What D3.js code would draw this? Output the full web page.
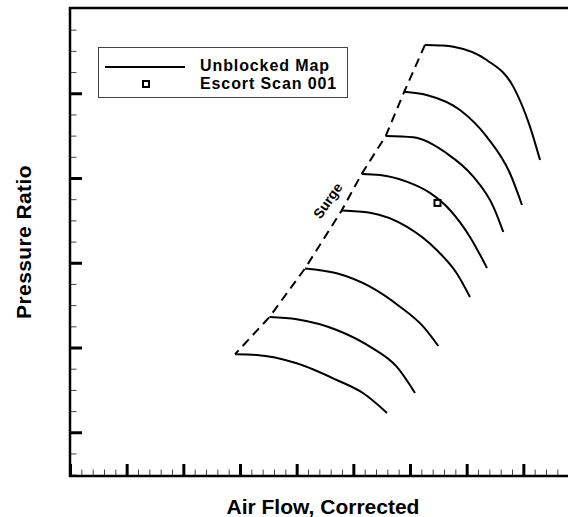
<!DOCTYPE html>
<html>
<head>
<meta charset="utf-8">
<script src="https://cdn.jsdelivr.net/npm/d3@7"></script>
<style>
  html, body { margin: 0; padding: 0; background: #fff; }
  svg { display: block; font-family: "Liberation Sans", Arial, sans-serif; }
</style>
</head>
<body>
<svg id="chart" width="568" height="517"></svg>
<script>
// ---- Data (arbitrary units: 1 unit = 1 major tick) ----
const speedLines = [
  { u: [6.264, 6.529, 6.764, 7.353, 7.822, 8.117, 8.294], v: [5.570, 5.564, 5.550, 5.393, 5.078, 4.606, 4.213] },
  { u: [5.899, 6.294, 6.882, 7.353, 7.764, 7.976],        v: [5.019, 4.980, 4.803, 4.488, 4.056, 3.682] },
  { u: [5.571, 6.058, 6.647, 7.117, 7.470, 7.646],        v: [4.496, 4.481, 4.292, 4.016, 3.662, 3.363] },
  { u: [5.147, 5.470, 5.941, 6.352, 6.705, 7.058, 7.358], v: [4.048, 4.036, 3.957, 3.824, 3.623, 3.305, 2.939] },
  { u: [4.794, 5.294, 5.941, 6.471, 6.824, 7.058],        v: [3.617, 3.591, 3.426, 3.151, 2.876, 2.596] },
  { u: [4.147, 4.706, 5.294, 5.823, 6.234, 6.499],        v: [2.933, 2.876, 2.718, 2.482, 2.246, 2.018] },
  { u: [3.520, 4.000, 4.706, 5.294, 5.765, 6.088],        v: [2.360, 2.333, 2.207, 2.010, 1.774, 1.464] },
  { u: [2.912, 3.294, 4.000, 4.706, 5.176, 5.594],        v: [1.920, 1.912, 1.814, 1.617, 1.460, 1.228] }
];
const scanU = [6.485];
const scanV = [3.706];
const surgeLabel = { text: "Surge", u: 4.62, v: 3.70, angle: -55 };
const legendLabels = ["Unblocked Map", "Escort Scan 001"];
const xTitle = "Air Flow, Corrected";
const yTitle = "Pressure Ratio";
const xMajorTicks = [0, 1, 2, 3, 4, 5, 6, 7, 8];
const yMajorTicks = [1, 2, 3, 4, 5];
const xDomain = [0, 8.788];
const yDomain = [0.484, 6.006];

(function () {
// ---- Layout ----
const svg = d3.select("#chart");
const mLeft = 70, mRight = 568, mTop = 8, mBottom = 476;
const x = d3.scaleLinear().domain(xDomain).range([mLeft, mRight]);
const y = d3.scaleLinear().domain(yDomain).range([mBottom, mTop]);

const xMinorTicks = d3.range(0, xDomain[1], 0.2).filter(t => Math.abs(t - Math.round(t)) > 1e-6);
const yMinorTicks = d3.range(0.5, yDomain[1], 0.25).filter(t => Math.abs(t - Math.round(t)) > 1e-6);

// minor ticks
const gxMinor = svg.append("g").attr("transform", `translate(0,${mBottom})`)
  .call(d3.axisBottom(x).tickValues(xMinorTicks).tickSize(-6.5).tickFormat(""));
const gyMinor = svg.append("g").attr("transform", `translate(${mLeft},0)`)
  .call(d3.axisLeft(y).tickValues(yMinorTicks).tickSize(-6.5).tickFormat(""));
[gxMinor, gyMinor].forEach(g => {
  g.select(".domain").remove();
  g.selectAll("line").attr("stroke", "#444").attr("stroke-width", 1);
});
// major ticks
const gxMajor = svg.append("g").attr("transform", `translate(0,${mBottom})`)
  .call(d3.axisBottom(x).tickValues(xMajorTicks).tickSize(-12).tickFormat(""));
const gyMajor = svg.append("g").attr("transform", `translate(${mLeft},0)`)
  .call(d3.axisLeft(y).tickValues(yMajorTicks).tickSize(-12).tickFormat(""));
[gxMajor, gyMajor].forEach(g => {
  g.select(".domain").remove();
  g.selectAll("line").attr("stroke", "#000").attr("stroke-width", 3);
});

// frame
svg.append("path")
  .attr("d", `M${mRight},${mTop}H${mLeft}V${mBottom}H${mRight}`)
  .attr("fill", "none").attr("stroke", "#000").attr("stroke-width", 2.5);

// speed lines
const line = d3.line().x(d => x(d[0])).y(d => y(d[1])).curve(d3.curveMonotoneX);
svg.append("g").selectAll("path").data(speedLines).join("path")
  .attr("d", s => line(s.u.map((u, i) => [u, s.v[i]])))
  .attr("fill", "none").attr("stroke", "#000").attr("stroke-width", 2);

// surge line through the first point of each speed line
const surgePts = speedLines.map(s => [s.u[0], s.v[0]]);
svg.append("path")
  .attr("d", d3.line().x(d => x(d[0])).y(d => y(d[1]))(surgePts))
  .attr("fill", "none").attr("stroke", "#000").attr("stroke-width", 2)
  .attr("stroke-dasharray", "9,6");

svg.append("text")
  .attr("transform", `translate(${x(surgeLabel.u)},${y(surgeLabel.v)}) rotate(${surgeLabel.angle})`)
  .attr("text-anchor", "middle")
  .attr("font-size", 14).attr("font-weight", "bold")
  .text(surgeLabel.text);

// escort scan point
svg.append("g").selectAll("rect").data(scanU).join("rect")
  .attr("x", (d) => x(d) - 3).attr("y", (d, i) => y(scanV[i]) - 3)
  .attr("width", 6).attr("height", 6)
  .attr("fill", "#fff").attr("stroke", "#000").attr("stroke-width", 2);

// legend
const lg = svg.append("g");
lg.append("rect").attr("x", 98.5).attr("y", 47.5).attr("width", 249).attr("height", 50)
  .attr("fill", "#fff").attr("stroke", "#444").attr("stroke-width", 1);
lg.append("line").attr("x1", 105).attr("x2", 185).attr("y1", 67).attr("y2", 67)
  .attr("stroke", "#000").attr("stroke-width", 2);
lg.append("rect").attr("x", 143).attr("y", 81).attr("width", 6).attr("height", 6)
  .attr("fill", "#fff").attr("stroke", "#000").attr("stroke-width", 2);
lg.selectAll("text").data(legendLabels).join("text")
  .attr("x", 200).attr("y", (d, i) => 71 + i * 18)
  .attr("font-size", 16).attr("font-weight", "bold")
  .attr("letter-spacing", 0.9)
  .text(d => d);

// axis titles
svg.append("text")
  .attr("x", (mLeft + mRight) / 2 + 4).attr("y", 514)
  .attr("text-anchor", "middle").attr("font-size", 21).attr("font-weight", "bold")
  .text(xTitle);
svg.append("text")
  .attr("transform", `translate(31,${(mTop + mBottom) / 2}) rotate(-90)`)
  .attr("text-anchor", "middle").attr("font-size", 21).attr("font-weight", "bold")
  .attr("letter-spacing", 0.4)
  .text(yTitle);
})();
</script>
</body>
</html>
